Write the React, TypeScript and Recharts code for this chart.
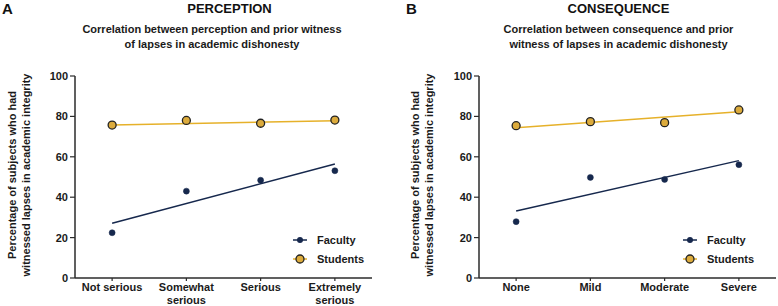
import {
  ComposedChart,
  Line,
  XAxis,
  YAxis,
} from "recharts";

const FONT = '"Liberation Sans", Arial, sans-serif';
const NAVY = "#16284d";
const GOLD = "#dcab3c";
const GOLD_LINE = "#e6b12a";
const AXIS = "#2b2b2b";

// panel A - perception
const categoriesA = ["Not serious", "Somewhat\nserious", "Serious", "Extremely\nserious"];
const facultyA = [22.4, 43, 48.4, 53.1];
const studentsA = [75.7, 78, 76.6, 78.2];
const facultyFitA = [27.1, null, null, 56.4];
const studentsFitA = [75.8, null, null, 77.9];

// panel B - consequence
const categoriesB = ["None", "Mild", "Moderate", "Severe"];
const facultyB = [27.9, 49.8, 48.8, 56.1];
const studentsB = [75.4, 77.4, 76.9, 83.2];
const facultyFitB = [33.2, null, null, 58.1];
const studentsFitB = [74.4, null, null, 82.3];

const yTicks = [0, 20, 40, 60, 80, 100];

const buildRows = (
  cats: string[],
  fac: number[],
  stu: number[],
  facFit: (number | null)[],
  stuFit: (number | null)[]
) =>
  cats.map((cat, i) => ({
    cat,
    faculty: fac[i],
    students: stu[i],
    facultyFit: facFit[i],
    studentsFit: stuFit[i],
  }));

const CatTick = (props: any) => {
  const { x, y, payload } = props;
  const lines = String(payload.value).split("\n");
  return (
    <text
      x={x}
      y={y}
      textAnchor="middle"
      fontFamily={FONT}
      fontWeight="bold"
      fontSize={11}
      fill="#1a1a1a"
    >
      {lines.map((l, i) => (
        <tspan key={i} x={x} dy={i === 0 ? "0.72em" : 13}>
          {l}
        </tspan>
      ))}
    </text>
  );
};

const LegendBox = () => (
  <svg width={90} height={40} style={{ display: "block" }}>
    <line x1={3} y1={9} x2={17} y2={9} stroke={NAVY} strokeWidth={1.5} />
    <circle cx={10} cy={9} r={3} fill={NAVY} />
    <text x={27} y={9} dy="0.35em" fontFamily={FONT} fontWeight="bold" fontSize={11} fill="#1a1a1a">
      Faculty
    </text>
    <line x1={3} y1={28} x2={17} y2={28} stroke={GOLD_LINE} strokeWidth={1.5} />
    <circle cx={10} cy={28} r={4} fill={GOLD} stroke="#222" strokeWidth={1.3} />
    <text x={27} y={28} dy="0.35em" fontFamily={FONT} fontWeight="bold" fontSize={11} fill="#1a1a1a">
      Students
    </text>
  </svg>
);

interface PanelProps {
  rows: ReturnType<typeof buildRows>;
  left: number;
  width: number;
  axisX: number;
  rightMargin: number;
  labelX1: number;
  labelX2: number;
  legendLeft: number;
}

const Panel = (p: PanelProps) => {
  const YLabel = () => (
    <g fontFamily={FONT} fontWeight="bold" fontSize={11} fill="#1a1a1a">
      <text transform={`translate(${p.labelX1},175) rotate(-90)`} textAnchor="middle" dy="0.35em">
        Percentage of subjects who had
      </text>
      <text transform={`translate(${p.labelX2},175) rotate(-90)`} textAnchor="middle" dy="0.35em">
        witnessed lapses in academic integrity
      </text>
    </g>
  );
  return (
    <div style={{ position: "absolute", left: p.left, top: 0, width: p.width, height: 306 }}>
      <ComposedChart
        width={p.width}
        height={306}
        data={p.rows}
        margin={{ top: 76, right: p.rightMargin, bottom: 0, left: 0 }}
      >
        <XAxis
          dataKey="cat"
          scale="band"
          height={28}
          interval={0}
          tick={<CatTick />}
          tickSize={3}
          tickMargin={2}
          axisLine={{ stroke: AXIS, strokeWidth: 1.5 }}
          tickLine={{ stroke: AXIS, strokeWidth: 1.2 }}
        />
        <YAxis
          width={p.axisX}
          domain={[0, 100]}
          ticks={yTicks}
          tickSize={5}
          tickMargin={2}
          axisLine={{ stroke: AXIS, strokeWidth: 1.5 }}
          tickLine={{ stroke: AXIS, strokeWidth: 1.2 }}
          tick={{ fontFamily: FONT, fontWeight: "bold", fontSize: 11, fill: "#1a1a1a" }}
          label={<YLabel />}
        />
        <Line
          dataKey="facultyFit"
          stroke={NAVY}
          strokeWidth={1.5}
          dot={false}
          connectNulls
          isAnimationActive={false}
        />
        <Line
          dataKey="studentsFit"
          stroke={GOLD_LINE}
          strokeWidth={1.5}
          dot={false}
          connectNulls
          isAnimationActive={false}
        />
        <Line
          dataKey="faculty"
          stroke="none"
          dot={{ r: 3, fill: NAVY, stroke: NAVY, strokeWidth: 0.5 }}
          isAnimationActive={false}
        />
        <Line
          dataKey="students"
          stroke="none"
          dot={{ r: 4, fill: GOLD, stroke: "#222", strokeWidth: 1.3 }}
          isAnimationActive={false}
        />
      </ComposedChart>
      <div style={{ position: "absolute", left: p.legendLeft, top: 231 }}>
        <LegendBox />
      </div>
    </div>
  );
};

const Titles = () => (
  <svg
    width={778}
    height={70}
    style={{ position: "absolute", left: 0, top: 0, pointerEvents: "none" }}
    fontFamily={FONT}
    fontWeight="bold"
    fill="#111"
  >
    <text x={2} y={8.5} dy="0.36em" fontSize={15}>A</text>
    <text x={406} y={8.5} dy="0.36em" fontSize={15}>B</text>
    <text x={229.5} y={8.5} dy="0.36em" fontSize={13} textAnchor="middle">PERCEPTION</text>
    <text x={618.5} y={8.5} dy="0.36em" fontSize={13} textAnchor="middle">CONSEQUENCE</text>
    <g fontSize={11} textAnchor="middle" fill="#1a1a1a">
      <text x={212} y={29} dy="0.36em">Correlation between perception and prior witness</text>
      <text x={212} y={44} dy="0.36em">of lapses in academic dishonesty</text>
      <text x={618.5} y={29} dy="0.36em">Correlation between consequence and prior</text>
      <text x={618.5} y={44} dy="0.36em">witness of lapses in academic dishonesty</text>
    </g>
  </svg>
);

export default function App() {
  const rowsA = buildRows(categoriesA, facultyA, studentsA, facultyFitA, studentsFitA);
  const rowsB = buildRows(categoriesB, facultyB, studentsB, facultyFitB, studentsFitB);
  return (
    <div
      style={{
        position: "absolute",
        left: 0,
        top: 0,
        width: 778,
        height: 306,
        background: "#fff",
        overflow: "hidden",
      }}
    >
      <Panel
        rows={rowsA}
        left={0}
        width={380}
        axisX={75}
        rightMargin={8}
        labelX1={12.5}
        labelX2={26}
        legendLeft={290}
      />
      <Panel
        rows={rowsB}
        left={390}
        width={388}
        axisX={89}
        rightMargin={2}
        labelX1={25.5}
        labelX2={39.5}
        legendLeft={290}
      />
      <Titles />
    </div>
  );
}
